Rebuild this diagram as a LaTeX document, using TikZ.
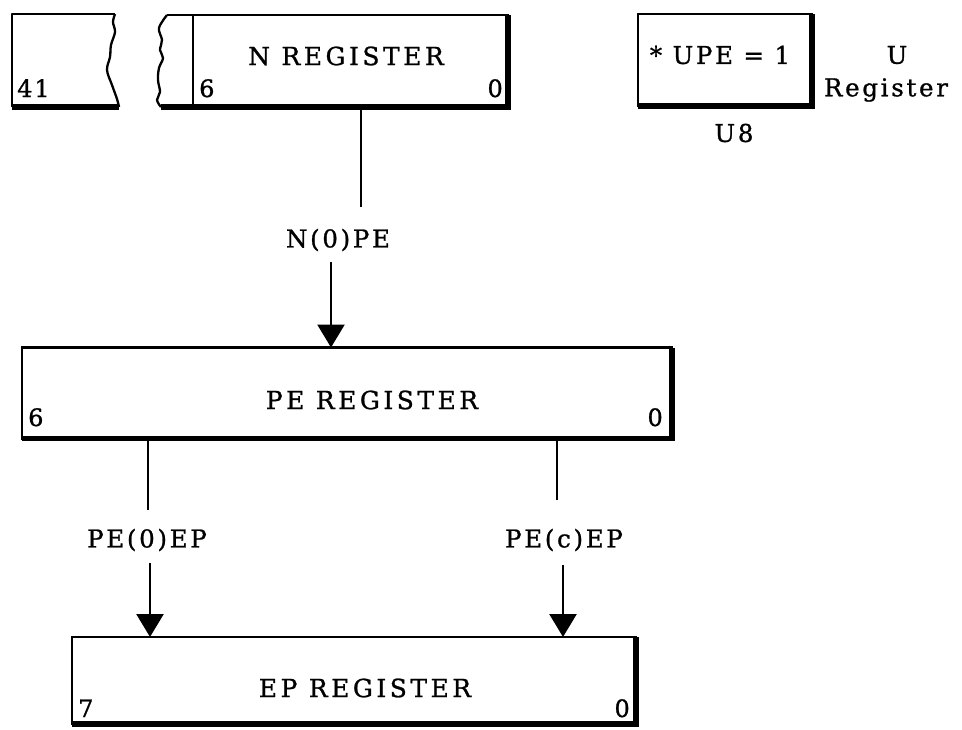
\documentclass[tikz,border=0pt]{standalone}
\usepackage{fontspec}
\setmainfont{DejaVu Serif}
\usetikzlibrary{arrows.meta}
\begin{document}
\begin{tikzpicture}[x=1pt,y=-1pt,
  reg/.style={draw, line width=2.3pt, inner sep=0pt, outer sep=0pt},
  heavy/.style={line width=5.5pt, line join=miter},
  thinline/.style={line width=2.3pt},
  title/.style={font=\fontsize{25}{28}\selectfont\addfontfeatures{LetterSpace=14,FakeBold=1}, inner sep=0pt},
  lbl/.style={font=\fontsize{24.5}{28}\selectfont\addfontfeatures{LetterSpace=11,FakeBold=1}, inner sep=0pt},
  num/.style={font=\fontsize{24}{28}\selectfont\addfontfeatures{LetterSpace=8,FakeBold=1}, inner sep=0pt},
  conn/.style={line width=2.5pt},
  arr/.style={line width=2.5pt, -{Triangle[length=23pt,width=27pt]}}]
\useasboundingbox (0,0) rectangle (962,729);

% ---- left broken register (bit 41) ----
\coordinate (lbtop) at (115,14);
\coordinate (lbbot) at (119,107);
\draw[thinline, line join=round] (lbtop) -- (12,14) -- (12,107);
\draw[heavy] (12,107) -- (lbbot);
\draw[thinline] plot[smooth, tension=0.6] coordinates {(115,14) (113,22) (115,32) (111,45) (110,57) (107,70) (112,85) (117,99) (119,107)};
\node[num, anchor=base west] (b41) at (17,97) {41};

% ---- N register ----
\node[reg, minimum width=315, minimum height=92] (nreg) at (350.5,61) {};
\coordinate (nwtop) at (167,15);
\coordinate (nwbot) at (161,107);
\draw[thinline] (nreg.north west) -- (nwtop);
\draw[thinline] plot[smooth, tension=0.6] coordinates {(167,15) (159,28) (162,40) (160,50) (163,58) (159,68) (158,80) (160,92) (157,100) (161,107)};
\draw[heavy] (nreg.north east) -- (nreg.south east) -- (nwbot);
\node[title] (ntitle) at (346,56) {N REGISTER};
\node[num, anchor=base west] (n6) at (199,97) {6};
\node[num, anchor=base east] (n0) at (503,97) {0};

% ---- U register ----
\node[reg, minimum width=174, minimum height=92] (ureg) at (725,60) {};
\draw[heavy] (ureg.north east) -- (ureg.south east) -- (ureg.south west);
\node[lbl] (upe) at (720,55) {* UPE = 1};
\node[lbl] (uname) at (897,55) {U};
\node[lbl] (uregname) at (886,90) {Register};
\node[lbl] (u8) at (734,133) {U8};

% ---- PE register ----
\node[reg, minimum width=650, minimum height=91] (pe) at (347,393) {};
\draw[heavy] (pe.north east) -- (pe.south east) -- (pe.south west);
\node[title] (petitle) at (372,400) {PE REGISTER};
\node[num, anchor=base west] (pe6) at (28,426) {6};
\node[num, anchor=base east] (pe0) at (663,426) {0};

% ---- EP register ----
\node[reg, minimum width=564, minimum height=87] (ep) at (354,680.5) {};
\draw[heavy] (ep.north east) -- (ep.south east) -- (ep.south west);
\node[title] (eptitle) at (365,688) {EP REGISTER};
\node[num, anchor=base west] (ep7) at (78,717) {7};
\node[num, anchor=base east] (ep0) at (630,717) {0};

% ---- connectors ----
\node[lbl] (n0pe) at (338,240) {N(0)PE};
\coordinate (c1) at (361,207);
\draw[conn] (nreg.south -| c1) -- (c1);
\coordinate (c2) at (331,262);
\draw[arr] (c2) -- (pe.north -| c2);

\node[lbl] (pe0ep) at (147,540) {PE(0)EP};
\coordinate (c3) at (148,510);
\draw[conn] (pe.south -| c3) -- (c3);
\coordinate (c4) at (150,563);
\draw[arr] (c4) -- (ep.north -| c4);

\node[lbl] (pecep) at (564,540) {PE(c)EP};
\coordinate (c5) at (557,500);
\draw[conn] (pe.south -| c5) -- (c5);
\coordinate (c6) at (563,565);
\draw[arr] (c6) -- (ep.north -| c6);
\end{tikzpicture}
\end{document}
